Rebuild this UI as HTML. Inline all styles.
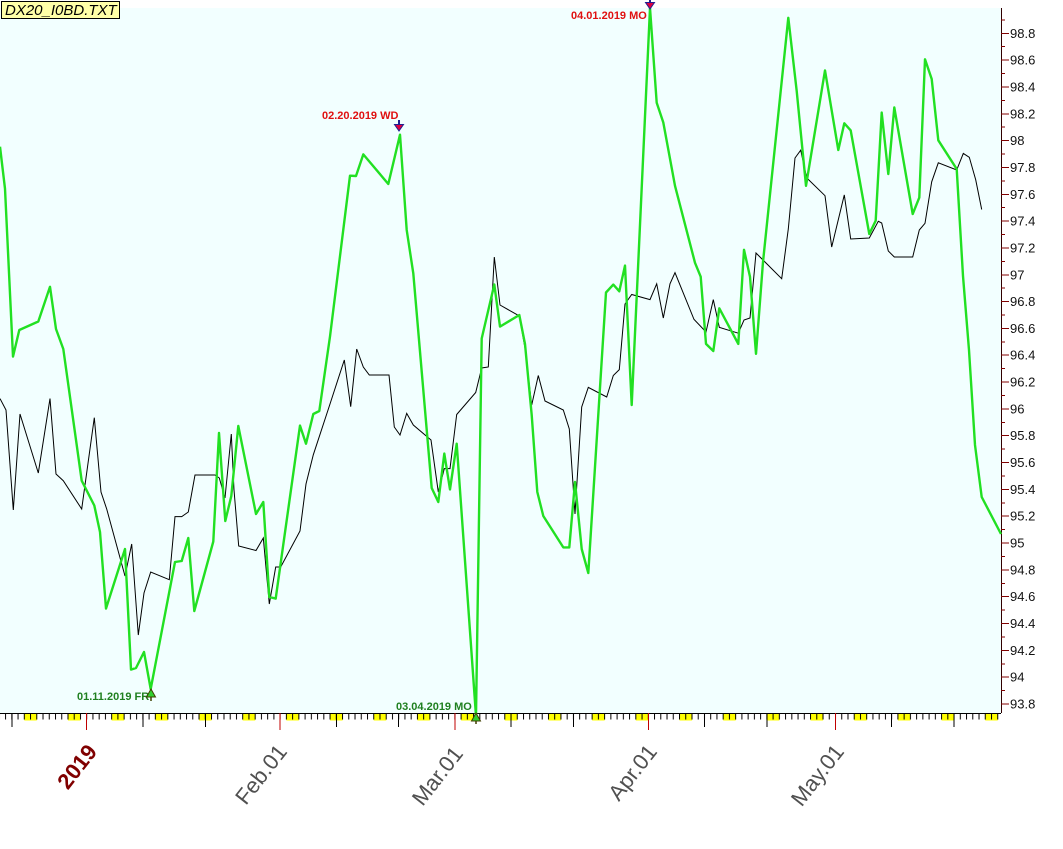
<!DOCTYPE html>
<html>
<head>
<meta charset="utf-8">
<style>
html,body{margin:0;padding:0;background:#fff;}
svg{display:block;}
text{font-family:"Liberation Sans",Arial,sans-serif;}
</style>
</head>
<body>
<svg width="1063" height="849" viewBox="0 0 1063 849" xmlns="http://www.w3.org/2000/svg">
<defs>
<pattern id="wk" x="111.66" y="714" width="43.68" height="7" patternUnits="userSpaceOnUse">
<rect x="0" y="0" width="12.48" height="6.5" fill="#ffff00"/>
</pattern>
<pattern id="dt" x="86.2" y="713" width="6.24" height="7" patternUnits="userSpaceOnUse">
<rect x="0" y="0" width="1" height="6.5" fill="#000"/>
</pattern>
</defs>

<!-- plot background -->
<rect x="0" y="8" width="1001" height="705" fill="#f2ffff"/>

<!-- bottom axis weekend markers + ticks -->
<rect x="0" y="714" width="1001" height="7" fill="url(#wk)"/>
<rect x="0" y="713" width="1001" height="7" fill="url(#dt)"/>
<line x1="0" y1="713.5" x2="1001" y2="713.5" stroke="#000" stroke-width="1"/>
<g stroke="#000" stroke-width="1" shape-rendering="crispEdges">
<line x1="11.8" y1="713" x2="11.8" y2="727"/>
<line x1="142.9" y1="713" x2="142.9" y2="727"/>
<line x1="205.3" y1="713" x2="205.3" y2="727"/>
<line x1="336.3" y1="713" x2="336.3" y2="727"/>
<line x1="398.7" y1="713" x2="398.7" y2="727"/>
<line x1="511" y1="713" x2="511" y2="727"/>
<line x1="573.4" y1="713" x2="573.4" y2="727"/>
<line x1="704.5" y1="713" x2="704.5" y2="727"/>
<line x1="766.9" y1="713" x2="766.9" y2="727"/>
<line x1="891.7" y1="713" x2="891.7" y2="727"/>
<line x1="954.1" y1="713" x2="954.1" y2="727"/>
</g>
<g stroke="#c00000" stroke-width="1" shape-rendering="crispEdges">
<line x1="86.7" y1="713" x2="86.7" y2="730"/>
<line x1="280.1" y1="713" x2="280.1" y2="730"/>
<line x1="454.9" y1="713" x2="454.9" y2="730"/>
<line x1="648.3" y1="713" x2="648.3" y2="730"/>
<line x1="835.5" y1="713" x2="835.5" y2="730"/>
</g>

<!-- date labels -->
<text x="98" y="752" text-anchor="end" font-size="22" font-weight="bold" fill="#800000" transform="rotate(-52 98 752)">2019</text>
<text x="288" y="752" text-anchor="end" font-size="22" fill="#505050" transform="rotate(-52 288 752)">Feb.01</text>
<text x="464" y="754" text-anchor="end" font-size="22" fill="#505050" transform="rotate(-52 464 754)">Mar.01</text>
<text x="658" y="752" text-anchor="end" font-size="22" fill="#505050" transform="rotate(-52 658 752)">Apr.01</text>
<text x="845" y="752" text-anchor="end" font-size="22" fill="#505050" transform="rotate(-52 845 752)">May.01</text>

<!-- right axis -->
<line x1="1001.5" y1="8" x2="1001.5" y2="713" stroke="#300000" stroke-width="1"/>
<path stroke="#800000" stroke-width="1" fill="none" shape-rendering="crispEdges" d="
M1001 704h8 M1001 677.2h8 M1001 650.3h8 M1001 623.5h8 M1001 596.7h8 M1001 569.9h8 M1001 543h8 M1001 516.2h8 M1001 489.4h8 M1001 462.6h8 M1001 435.7h8 M1001 408.9h8 M1001 382.1h8 M1001 355.2h8 M1001 328.4h8 M1001 301.6h8 M1001 274.8h8 M1001 247.9h8 M1001 221.1h8 M1001 194.3h8 M1001 167.5h8 M1001 140.6h8 M1001 113.8h8 M1001 87h8 M1001 60.1h8 M1001 33.3h8
M1001 690.6h4 M1001 663.8h4 M1001 636.9h4 M1001 610.1h4 M1001 583.3h4 M1001 556.5h4 M1001 529.6h4 M1001 502.8h4 M1001 476h4 M1001 449.2h4 M1001 422.3h4 M1001 395.5h4 M1001 368.7h4 M1001 341.8h4 M1001 315h4 M1001 288.2h4 M1001 261.4h4 M1001 234.5h4 M1001 207.7h4 M1001 180.9h4 M1001 154.1h4 M1001 127.2h4 M1001 100.4h4 M1001 73.6h4 M1001 46.7h4 M1001 19.9h4"/>
<g font-size="13" fill="#111">
<text x="1010" y="708.5">93.8</text>
<text x="1010" y="681.7">94</text>
<text x="1010" y="654.8">94.2</text>
<text x="1010" y="628">94.4</text>
<text x="1010" y="601.2">94.6</text>
<text x="1010" y="574.4">94.8</text>
<text x="1010" y="547.5">95</text>
<text x="1010" y="520.7">95.2</text>
<text x="1010" y="493.9">95.4</text>
<text x="1010" y="467.1">95.6</text>
<text x="1010" y="440.2">95.8</text>
<text x="1010" y="413.4">96</text>
<text x="1010" y="386.6">96.2</text>
<text x="1010" y="359.7">96.4</text>
<text x="1010" y="332.9">96.6</text>
<text x="1010" y="306.1">96.8</text>
<text x="1010" y="279.3">97</text>
<text x="1010" y="252.4">97.2</text>
<text x="1010" y="225.6">97.4</text>
<text x="1010" y="198.8">97.6</text>
<text x="1010" y="172">97.8</text>
<text x="1010" y="145.1">98</text>
<text x="1010" y="118.3">98.2</text>
<text x="1010" y="91.5">98.4</text>
<text x="1010" y="64.6">98.6</text>
<text x="1010" y="37.8">98.8</text>
</g>

<!-- black series -->
<polyline fill="none" stroke="#000" stroke-width="1" stroke-linejoin="miter" points="
0,398.6 6,410 13.3,510 20,414 38.3,473 50,398.6 56,474 63.3,480.7 81.7,509 94.3,417.7 101,492 106.7,509 125,576 131.7,544 138.3,635 144,593 150.7,572 169.3,579.7 175,516.6 181.7,516.6 188.3,512 195,475 215,475 219.3,478 225,498 231.3,434 234,490 238.7,546 256,550.5 263.3,538 269.3,604 275.7,567 280.7,567 300,531 306,484 313.3,454.8 330,404 344.3,360 350.7,406.7 356.7,349 363.3,367 369.3,375 389,375 394.3,427 400,435 406.7,413.4 413.3,425 431,440 438.3,492 444.3,468.6 450,468.6 456.7,414.5 475.7,392.5 481.7,368 488.3,367 494.3,257 500,305 519.3,316 525,348 531.7,405 538.3,375.5 545,401 563.3,410 569.3,429 575,514 581.7,407 588.3,387.4 606.7,397 613.3,375.5 619.3,369.6 625,304 631.7,294.5 650,299.6 656.7,283.8 663.3,318 670,283.8 675,272.7 694,319.4 706,332 713.3,299.6 719.3,327.3 738.3,333.2 744,320 750,318 756,253 781.7,278.7 788.3,229 795,158 800.7,150.2 806.7,177.9 825,195.7 831.7,247 844.3,194.9 850.7,239 869.3,238 878.3,221.3 881.7,223 888.3,251 894.3,257 912.7,257 919.3,230 925,223.3 931.7,181.8 938.3,162.8 956.7,170 963.3,153.4 969.3,157.3 975.7,179.8 981.7,209.5"/>

<!-- green series -->
<polyline fill="none" stroke="#22e022" stroke-width="2.4" stroke-linejoin="round" points="
0,146.7 5,188.7 13,356.6 19.3,330 38.3,321.5 50,286.8 56,329 63.3,349 81.7,480.7 94.3,505.5 100,532 106,608.5 125,549 131,669.6 136,668 144,652 150.7,689 175,562 181.7,561 188.3,538 194.3,611 213.3,541.5 219,433 225.3,521 231.3,496 238.3,426 256,514 263.3,502 269.3,597 275.7,598.6 300,425.6 306,443.7 313.3,414 319.3,411 330,336.5 350,175.7 356,176 363.3,154.4 388.3,184 400,134.7 406.7,230 413.3,273.4 431.7,488 438.3,502 444.3,453.6 450,489.4 456.7,443.7 476,716 481.7,338.5 494.3,284.5 500,326.6 519.3,315 525,344 531.7,415 537.3,492 543.3,516 563.3,547.4 569.3,547.4 575,482 581.7,549 588.3,573 606,292.5 613.3,284.6 619.3,291.3 625,265.6 631.7,405 650,8 656.7,102.8 663.3,122.5 675,185.8 695,262.8 700.7,276.7 706,343.9 713.3,351 719.3,308.3 738.3,343.9 744,249.8 750,276.7 756,353.8 763,262 788.3,17.8 796.7,91 806,185.8 825,70.4 838.3,150 844.3,123.3 850.7,130.4 869.3,234 875.7,220.6 881.7,112.6 888.3,174 894.3,107.5 912.7,214 919.3,197.6 925,59.3 931.7,79 938.3,140.3 956.7,169 963,276 969,350 975,445 981.7,497 1001,534"/>

<!-- annotations -->
<g font-size="11" font-weight="bold">
<text x="322" y="119" fill="#e01010">02.20.2019 WD</text>
<text x="571" y="19" fill="#e01010">04.01.2019 MO</text>
<text x="77" y="700" fill="#208020">01.11.2019 FR</text>
<text x="396" y="710" fill="#208020">03.04.2019 MO</text>
</g>
<!-- markers -->
<line x1="399" y1="120" x2="399" y2="125" stroke="#202090" stroke-width="2"/>
<polygon points="394.5,124.5 403.5,124.5 399,131" fill="#e00040" stroke="#202090" stroke-width="1"/>
<line x1="650" y1="-1" x2="650" y2="3" stroke="#202090" stroke-width="2"/>
<polygon points="645.5,2.5 654.5,2.5 650,9" fill="#e00040" stroke="#202090" stroke-width="1"/>
<polygon points="146.5,697 155.5,697 151,689" fill="#30d030" stroke="#404000" stroke-width="1"/>
<line x1="151" y1="697" x2="151" y2="701" stroke="#404000" stroke-width="1.5"/>
<polygon points="471.5,721 480.5,721 476,713" fill="#30d030" stroke="#404000" stroke-width="1"/>
<line x1="476" y1="721" x2="476" y2="724" stroke="#404000" stroke-width="1.5"/>

<!-- title box -->
<rect x="1.5" y="1.5" width="118" height="17" fill="#ffffa8" stroke="#000" stroke-width="1"/>
<text x="5" y="15" font-size="15" font-style="italic" fill="#000">DX20_I0BD.TXT</text>
</svg>
</body>
</html>
